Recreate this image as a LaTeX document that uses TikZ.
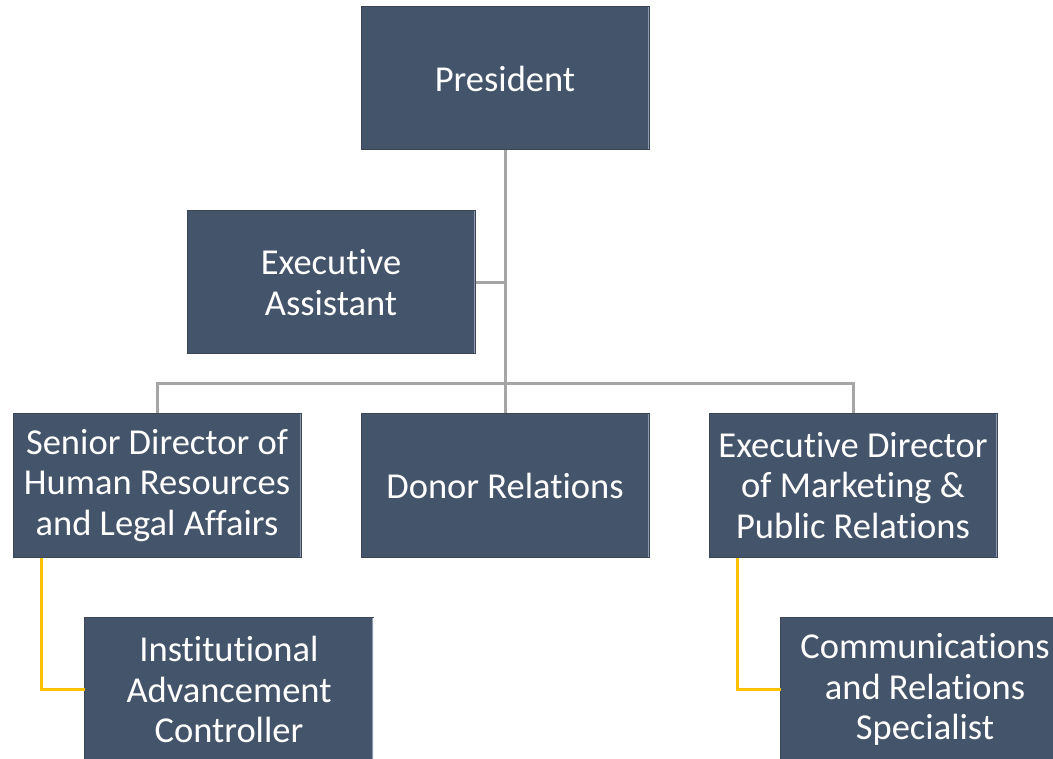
\documentclass[tikz,border=0pt]{standalone}
\usepackage{fontspec}
\setmainfont{Carlito}[Ligatures={NoCommon,NoRequired,NoContextual},RawFeature={-liga;-clig;-calt;-rlig}]
\definecolor{boxfill}{HTML}{44546A}
\definecolor{boxedge}{HTML}{3A4656}
\definecolor{boxlight}{HTML}{8E9AAE}
\definecolor{lineg}{HTML}{A5A5A5}
\definecolor{liney}{HTML}{FFC000}
\tikzset{
  orgbox/.style={draw=boxedge, fill=boxfill, line width=1pt,
    minimum width=288pt, minimum height=143pt, inner sep=0pt,
    text=white, align=center, font=\fontsize{36.5}{40.5}\selectfont,
    path picture={\draw[boxlight, line width=3pt]
      (path picture bounding box.north east) -- (path picture bounding box.south east);}},
  lowbox/.style={orgbox, draw=none},
  boxframe/.style={draw=boxedge, line width=1pt},
  grayline/.style={draw=lineg, line width=3pt},
  yelline/.style={draw=liney, line width=2.5pt}
}
\begin{document}
\begin{tikzpicture}[x=1pt,y=-1pt]
\useasboundingbox (0,0) rectangle (1053,759);
\clip (0,0) rectangle (1053,759);
\fill[white] (0,0) rectangle (1053,759);
\coordinate (bus) at (505,384);
\node[orgbox] (pres) at (505,78.5) {President};
\node[orgbox] (ea) at (331,282.5) {Executive\\Assistant};
\node[orgbox] (sd) at (157,485.5) {Senior Director of\\Human Resources\\and Legal Affairs};
\node[orgbox] (dr) at (505,485.5) {Donor Relations};
\node[orgbox] (ed) at (853,485.5) {Executive Director\\of Marketing \&\\Public Relations};
\node[lowbox] (ia) at (229,689.5) {Institutional\\Advancement\\Controller};
\node[lowbox] (cs) at (925,689.5) {Communications\\and Relations\\Specialist};
\draw[boxframe] (ia.south west) -- (ia.north west) -- (ia.north east);
\draw[boxframe] (cs.south west) -- (cs.north west) -- (cs.north east);
\draw[grayline] (pres.south) -- (dr.north);
\draw[grayline] (ea.east) -- (ea.east -| pres.south);
\draw[grayline] (sd.north) |- (bus) -| (ed.north);
\draw[yelline] ([xshift=29pt]sd.south west) |- (ia.west);
\draw[yelline] ([xshift=29pt]ed.south west) |- (cs.west);
\end{tikzpicture}
\end{document}
